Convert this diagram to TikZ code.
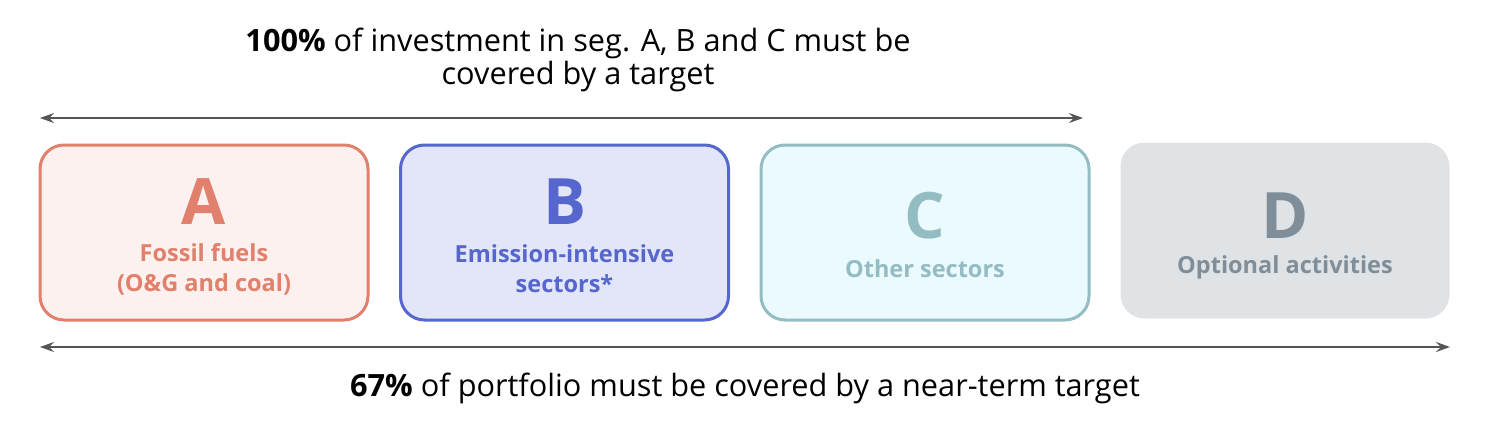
\documentclass[tikz,border=0pt]{standalone}
\usepackage{fontspec}
\setmainfont{Open Sans}
\usetikzlibrary{arrows.meta}
\definecolor{aline}{HTML}{E1806C}
\definecolor{afill}{HTML}{FCF1EF}
\definecolor{bline}{HTML}{5566CC}
\definecolor{bfill}{HTML}{E3E6F9}
\definecolor{cline}{HTML}{93BCC3}
\definecolor{cfill}{HTML}{EBFAFE}
\definecolor{dtext}{HTML}{7F8E99}
\definecolor{dfill}{HTML}{E0E3E6}
\definecolor{arr}{HTML}{555555}
\tikzset{
  seg/.style={rounded corners=24pt, line width=3pt, minimum width=328pt, minimum height=175pt, inner sep=0pt},
  big/.style={font=\fontsize{64}{64}\selectfont\bfseries},
  sub/.style={font=\fontsize{23.5}{30}\selectfont\bfseries, align=center},
  span/.style={draw=arr, line width=1.6pt, {Stealth[length=14pt,width=10pt,inset=5pt]}-{Stealth[length=14pt,width=10pt,inset=5pt]}},
  lbl/.style={font=\fontsize{30.7}{33}\selectfont, align=center, text=black}
}
\begin{document}
\begin{tikzpicture}[x=1pt,y=-1pt]
\useasboundingbox (0,0) rectangle (1490,428);
\node[seg, draw=aline, fill=afill] (A) at (204,232.5) {};
\node[seg, draw=bline, fill=bfill] (B) at (564.5,232.5) {};
\node[seg, draw=cline, fill=cfill] (C) at (925,232.5) {};
\node[seg, fill=dfill, minimum width=329pt, minimum height=176pt] (D) at (1285,230.5) {};
\node[big, text=aline] (Al) at (204,202) {A};
\node[sub, text=aline] (As) at (204,269) {Fossil fuels\\(O\&G and coal)};
\node[big, text=bline] (Bl) at (564.5,202) {B};
\node[sub, text=bline] (Bs) at (564.5,269) {Emission-intensive\\sectors*};
\node[big, text=cline] (Cl) at (925,216) {C};
\node[sub, text=cline] (Cs) at (925,269) {Other sectors};
\node[big, text=dtext] (Dl) at (1285,216) {D};
\node[sub, text=dtext] (Ds) at (1285,267) {Optional activities};
\coordinate (t1) at (40,118);
\coordinate (t2) at (1083,118);
\coordinate (b1) at (40,347);
\coordinate (b2) at (1450,347);
\draw[span] (t1) -- (t2);
\draw[span] (b1) -- (b2);
\node[lbl] (top) at (578,60) {\textbf{100\%} of investment in seg. A, B and C must be\\covered by a target};
\node[lbl] (bot) at (745,388) {\textbf{67\%} of portfolio must be covered by a near-term target};
\end{tikzpicture}
\end{document}
